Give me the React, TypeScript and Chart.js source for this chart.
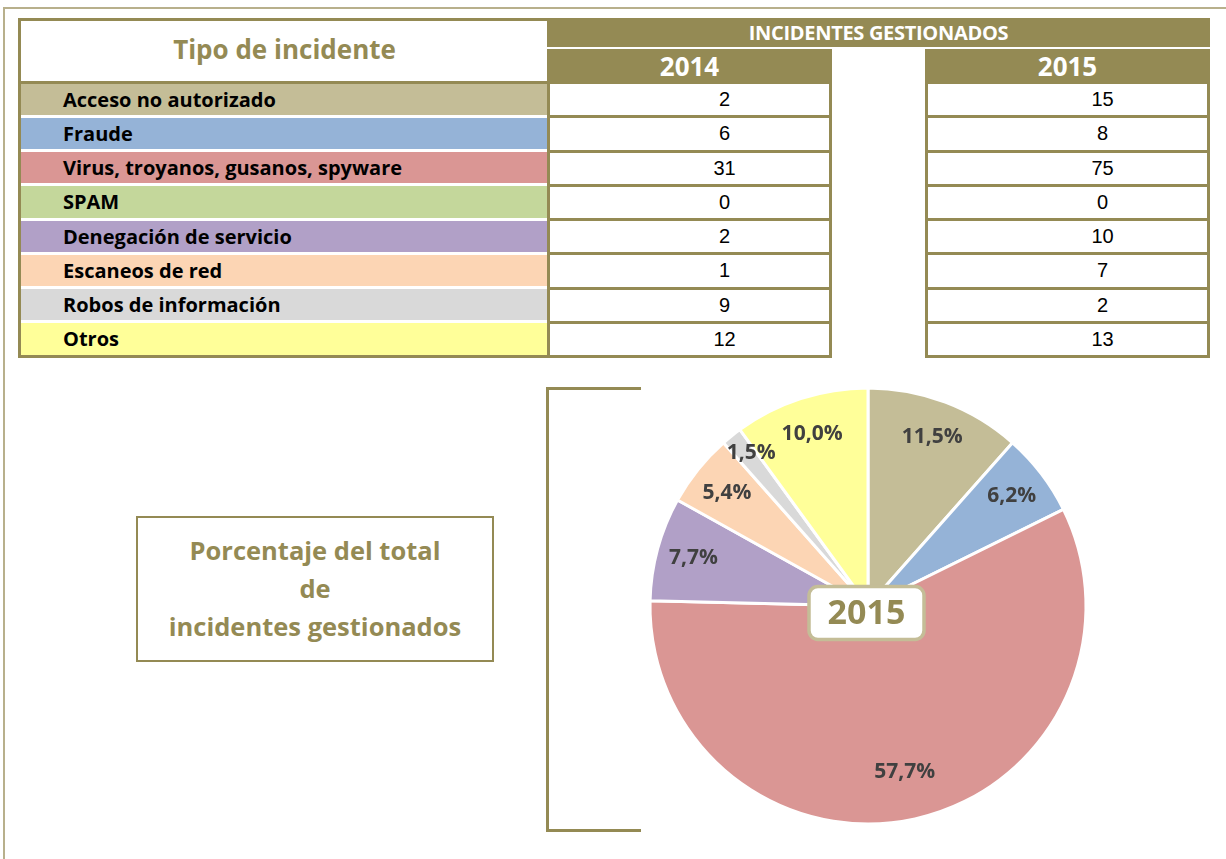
import React, { useEffect, useRef } from "react";
import { Chart, registerables } from "chart.js";

Chart.register(...registerables);

const categories = [
  "Acceso no autorizado",
  "Fraude",
  "Virus, troyanos, gusanos, spyware",
  "SPAM",
  "Denegación de servicio",
  "Escaneos de red",
  "Robos de información",
  "Otros",
];
const values2014 = [2, 6, 31, 0, 2, 1, 9, 12];
const values2015 = [15, 8, 75, 0, 10, 7, 2, 13];
const years = ["2014", "2015"];
const headerTitle = "INCIDENTES GESTIONADOS";
const typeTitle = "Tipo de incidente";
const sideTitleLines = ["Porcentaje del total", "de", "incidentes gestionados"];
const pieYear = "2015";

const colors = ["#c4bd97", "#95b3d7", "#da9694", "#c4d79b", "#b1a0c7", "#fcd5b4", "#d9d9d9", "#ffff99"];
const OLIVE = "#948a54";
const FONT = "'Open Sans', Lato, sans-serif";

const ROW_TOP = 82;
const ROW_H = 34.25;

const labelPlugin = {
  id: "sliceLabels",
  afterDatasetsDraw(chart: any) {
    const ctx = chart.ctx;
    const meta = chart.getDatasetMeta(0);
    const data = chart.data.datasets[0].data as number[];
    const total = data.reduce((a, b) => a + b, 0);
    ctx.save();
    ctx.font = `bold 21px ${FONT}`;
    ctx.fillStyle = "#404040";
    ctx.textAlign = "center";
    ctx.textBaseline = "middle";
    meta.data.forEach((arc: any, i: number) => {
      const v = data[i];
      if (!v) return;
      const p = arc.getProps(["x", "y", "startAngle", "endAngle", "outerRadius"], true);
      const mid = (p.startAngle + p.endAngle) / 2;
      const frac = v / total;
      const f = frac > 0.4 ? 0.78 : frac < 0.03 ? 0.9 : 0.83;
      const r = p.outerRadius * f;
      const txt = ((v / total) * 100).toFixed(1).replace(".", ",") + "%";
      ctx.fillText(txt, p.x + Math.cos(mid) * r + (frac < 0.03 ? 6 : 0), p.y + Math.sin(mid) * r);
    });
    ctx.restore();
  },
  afterDraw(chart: any) {
    const ctx = chart.ctx;
    const meta = chart.getDatasetMeta(0);
    const a = meta.data[0];
    if (!a) return;
    const cx = a.x - 1.5;
    const cy = a.y + 7;
    const w = 115;
    const h = 53;
    const x = cx - w / 2;
    const y = cy - h / 2;
    const rr = 9;
    ctx.save();
    ctx.beginPath();
    ctx.moveTo(x + rr, y);
    ctx.arcTo(x + w, y, x + w, y + h, rr);
    ctx.arcTo(x + w, y + h, x, y + h, rr);
    ctx.arcTo(x, y + h, x, y, rr);
    ctx.arcTo(x, y, x + w, y, rr);
    ctx.closePath();
    ctx.fillStyle = "#ffffff";
    ctx.fill();
    ctx.lineWidth = 3.5;
    ctx.strokeStyle = "#c4bd97";
    ctx.stroke();
    ctx.font = `bold 34px ${FONT}`;
    ctx.fillStyle = OLIVE;
    ctx.textAlign = "center";
    ctx.textBaseline = "middle";
    ctx.fillText(pieYear, cx, cy + 1);
    ctx.restore();
  },
};

function PieChart() {
  const ref = useRef<HTMLCanvasElement | null>(null);
  useEffect(() => {
    if (!ref.current) return;
    const chart = new Chart(ref.current, {
      type: "pie",
      data: {
        labels: categories,
        datasets: [
          {
            data: values2015,
            backgroundColor: colors,
            borderColor: "#ffffff",
            borderWidth: 3,
          },
        ],
      },
      options: {
        animation: false,
        responsive: false,
        maintainAspectRatio: false,
        radius: 218,
        layout: { padding: 0 },
        plugins: {
          legend: { display: false },
          tooltip: { enabled: false },
          title: { display: false },
        },
      } as any,
      plugins: [labelPlugin],
    });
    return () => chart.destroy();
  }, []);
  return (
    <canvas
      ref={ref}
      width={460}
      height={460}
      style={{ position: "absolute", left: 638, top: 376, width: 460, height: 460 }}
    />
  );
}

const abs = (l: number, t: number, w: number, h: number, extra: React.CSSProperties = {}): React.CSSProperties => ({
  position: "absolute",
  left: l,
  top: t,
  width: w,
  height: h,
  boxSizing: "border-box",
  ...extra,
});

export default function App() {
  useEffect(() => {
    document.body.style.margin = "0";
  }, []);
  const bottom = ROW_TOP + ROW_H * categories.length;
  return (
    <div style={{ position: "absolute", left: 0, top: 0, width: 1226, height: 859, background: "#fff", overflow: "hidden", fontFamily: FONT }}>
      {/* outer frame */}
      <div style={abs(3, 7, 1223, 2, { background: "#b8b08c" })} />
      <div style={abs(3, 7, 2, 852, { background: "#b8b08c" })} />

      {/* header left */}
      <div
        style={abs(18, 18, 530, 66, {
          border: `3px solid ${OLIVE}`,
          borderRight: "none",
          display: "flex",
          alignItems: "center",
          justifyContent: "center",
          color: OLIVE,
          fontWeight: 700,
          fontSize: 26,
          paddingBottom: 4,
        })}
      >
        {typeTitle}
      </div>
      {/* header band */}
      <div
        style={abs(547, 18, 663, 29, {
          background: OLIVE,
          color: "#fff",
          fontWeight: 700,
          fontSize: 20,
          display: "flex",
          alignItems: "center",
          justifyContent: "center",
          letterSpacing: -0.3,
        })}
      >
        {headerTitle}
      </div>
      {years.map((y, k) => (
        <div
          key={y}
          style={abs(k === 0 ? 547 : 925, 49, 285, 34, {
            background: OLIVE,
            color: "#fff",
            fontWeight: 700,
            fontSize: 26,
            display: "flex",
            alignItems: "center",
            justifyContent: "center",
          })}
        >
          {y}
        </div>
      ))}

      {/* row labels */}
      <div style={abs(18, ROW_TOP, 3, bottom - ROW_TOP + 2, { background: OLIVE })} />
      {categories.map((c, i) => (
        <div
          key={c}
          style={abs(21, ROW_TOP + i * ROW_H + (i === 0 ? 2 : 1.5), 527, ROW_H - 3, {
            background: colors[i],
            display: "flex",
            alignItems: "center",
            paddingLeft: 42,
            fontWeight: 700,
            fontSize: 20,
            color: "#000",
          })}
        >
          {c}
        </div>
      ))}
      <div style={abs(18, bottom - 1, 530, 3, { background: OLIVE })} />

      {/* value cells */}
      {[values2014, values2015].map((vals, k) =>
        vals.map((v, i) => (
          <div
            key={k + "-" + i}
            style={abs(k === 0 ? 547 : 925, ROW_TOP + i * ROW_H - 1, 285, ROW_H + 3, {
              border: `3px solid ${OLIVE}`,
              display: "flex",
              alignItems: "center",
              justifyContent: "center",
              paddingLeft: 70,
              fontFamily: "'Liberation Sans', Arial, sans-serif",
              fontSize: 20,
              color: "#000",
            })}
          >
            {v}
          </div>
        ))
      )}

      {/* side title box */}
      <div
        style={abs(136, 516, 358, 146, {
          border: `2px solid ${OLIVE}`,
          display: "flex",
          flexDirection: "column",
          alignItems: "center",
          justifyContent: "center",
          color: OLIVE,
          fontWeight: 700,
          fontSize: 25.5,
          lineHeight: "38px",
          paddingBottom: 2,
        })}
      >
        {sideTitleLines.map((l) => (
          <div key={l}>{l}</div>
        ))}
      </div>

      {/* bracket */}
      <div style={abs(546, 387, 3, 445, { background: OLIVE })} />
      <div style={abs(546, 387, 95, 3, { background: OLIVE })} />
      <div style={abs(546, 829, 95, 3, { background: OLIVE })} />

      <PieChart />
    </div>
  );
}
